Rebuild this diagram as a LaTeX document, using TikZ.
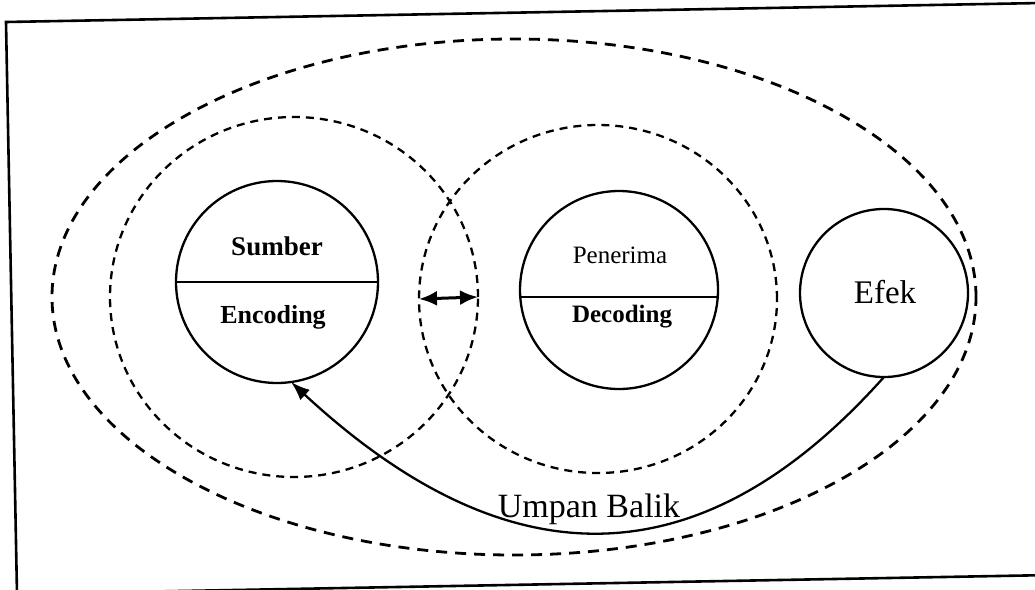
\documentclass[tikz,border=0pt]{standalone}
\usepackage{fontspec}
\setmainfont{Liberation Serif}
\usetikzlibrary{shapes.geometric,arrows.meta}
\begin{document}
\begin{tikzpicture}[x=1pt,y=-1pt,
  frameline/.style={line width=2.6pt, line join=miter},
  outerdash/.style={draw, ellipse, line width=2.8pt, dash pattern=on 11pt off 8pt, inner sep=0pt, outer sep=0pt},
  innerdash/.style={draw, ellipse, line width=2.3pt, dash pattern=on 8pt off 6pt, inner sep=0pt, outer sep=0pt},
  unit/.style={draw, circle, line width=2.3pt, inner sep=0pt, outer sep=0pt},
  lbl/.style={font=\fontsize{25}{30}\selectfont, inner sep=0pt, anchor=base},
  lblb/.style={font=\fontsize{26}{30}\selectfont\bfseries, inner sep=0pt, anchor=base},
  big/.style={font=\fontsize{34}{40}\selectfont, inner sep=0pt, anchor=base},
  link/.style={line width=2.3pt}
]
\useasboundingbox (0,0) rectangle (1035,589);
% frame (slightly rotated scan)
\draw[frameline] (6,22) -- (1041,3) -- (1052,575) -- (17,594) -- cycle;
% dashed regions
\node[outerdash, minimum width=924pt, minimum height=516pt] (outer) at (514,297) {};
\node[innerdash, minimum width=368pt, minimum height=360pt] (lring) at (294,297) {};
\node[innerdash, minimum width=358pt, minimum height=348pt] (rring) at (598,299) {};
% solid circles
\node[unit, minimum size=202pt] (sumber) at (277,282) {};
\node[unit, minimum size=198pt] (penerima) at (619,290) {};
\node[unit, minimum size=168pt] (efek) at (884,293) {};
\draw[link] (sumber.west) -- (sumber.east);
\draw[link] (penerima.184.6) -- (penerima.-4.6);
% labels
\node[lblb, font=\fontsize{27}{30}\selectfont\bfseries] (tsumber) at (277,255) {Sumber};
\node[lblb] (tencoding) at (273,323) {Encoding};
\node[lbl] (tpenerima) at (620,263) {Penerima};
\node[lblb, font=\fontsize{25}{30}\selectfont\bfseries] (tdecoding) at (622,322) {Decoding};
\node[big, font=\fontsize{33}{40}\selectfont] (tefek) at (885,303) {Efek};
% double arrow between rings
\draw[line width=3pt, {Latex[length=18pt,width=15pt]}-{Latex[length=18pt,width=15pt]}] (rring.west) -- (lring.east);
% feedback
\draw[link, -{Latex[length=19pt,width=14pt]}] (efek.south) .. controls (700,583) and (508,583) .. (sumber.-82);
\node[big] (tfeedback) at (589,517) {Umpan Balik};
\end{tikzpicture}
\end{document}
